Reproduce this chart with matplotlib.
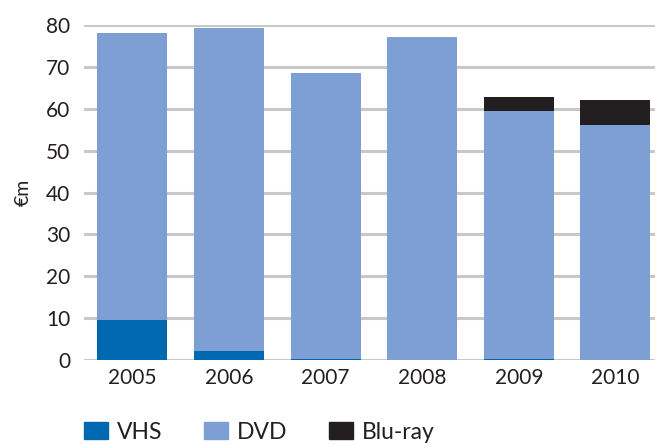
import matplotlib.pyplot as plt
from matplotlib.patches import Patch
import numpy as np

# values, in euro millions
YEARS = ['2005', '2006', '2007', '2008', '2009', '2010']
VHS = [9.5, 2.1, 0.2, 0.0, 0.2, 0.0]
DVD = [68.6, 77.2, 68.4, 77.2, 59.2, 56.1]
BLURAY = [0.0, 0.0, 0.0, 0.0, 3.4, 5.9]

COLOURS = {'VHS': '#0068b1', 'DVD': '#7e9fd3', 'Blu-ray': '#231f20'}
TEXT = '#231f20'

plt.rcParams['font.family'] = ['Lato', 'DejaVu Sans']


def stacked_bars():
    fig = plt.figure(figsize=(6.59, 4.44), dpi=100)
    ax = fig.add_axes([84 / 659, 1 - 360 / 444, 571 / 659, 335 / 444])

    x = np.arange(len(YEARS))
    vhs = np.array(VHS)
    dvd = np.array(DVD)
    blu = np.array(BLURAY)
    w = 0.725
    ax.bar(x, vhs, w, color=COLOURS['VHS'], zorder=3)
    ax.bar(x, dvd, w, bottom=vhs, color=COLOURS['DVD'], zorder=3)
    ax.bar(x, blu, w, bottom=vhs + dvd, color=COLOURS['Blu-ray'], zorder=3)

    ax.set_xlim(-0.5, 5.41)
    ax.set_ylim(0, 80)
    ax.set_yticks(range(0, 81, 10))
    ax.set_xticks(x)
    ax.set_xticklabels(YEARS)
    ax.yaxis.grid(True, color='#c8c8c8', lw=2.2, zorder=0)
    ax.set_axisbelow(True)
    for s in ax.spines.values():
        s.set_visible(False)
    ax.tick_params(length=0, labelsize=15, colors=TEXT, pad=6)
    ax.tick_params(axis='y', pad=10)
    ax.set_ylabel('€m', fontsize=14, color=TEXT, labelpad=10)

    handles = [Patch(color=COLOURS[k], label=k) for k in COLOURS]
    fig.legend(handles=handles, ncol=3, loc='center left',
               bbox_to_anchor=(63 / 659, 1 - 432 / 444), frameon=False,
               fontsize=16.5, handlelength=1.05, handleheight=0.7,
               handletextpad=0.4, columnspacing=1.8, labelcolor=TEXT)

    fig.savefig('out.png', dpi=100)


if __name__ == '__main__':
    stacked_bars()
